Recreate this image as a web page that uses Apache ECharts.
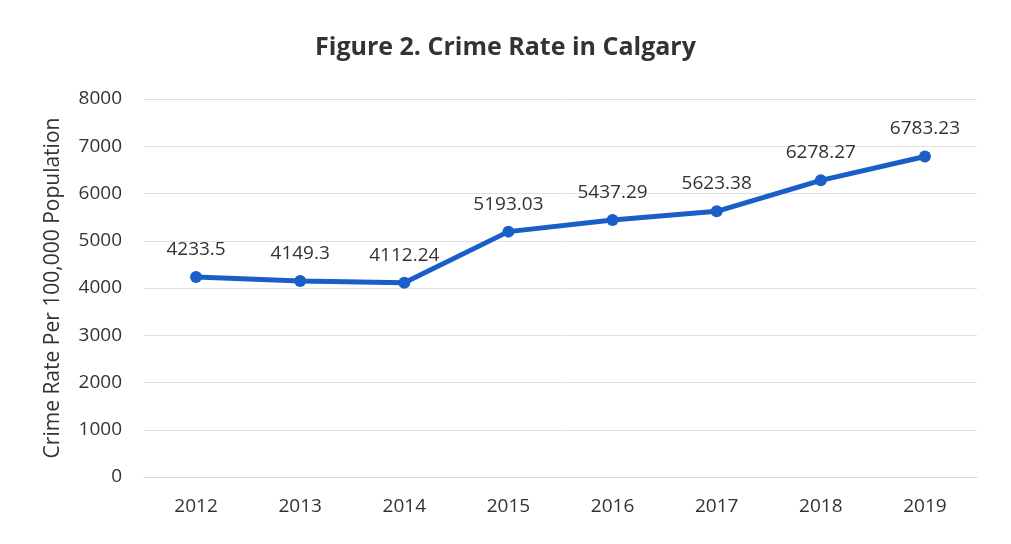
<!DOCTYPE html>
<html>
<head>
<meta charset="utf-8">
<script src="https://cdn.jsdelivr.net/npm/echarts@6/dist/echarts.min.js"></script>
<style>
  html, body { margin: 0; padding: 0; background: #fff; }
  #main { width: 1011px; height: 544px; }
</style>
</head>
<body>
<div id="main"></div>
<script>
// values
var years = ['2012', '2013', '2014', '2015', '2016', '2017', '2018', '2019']
var crimeRate = [4233.5, 4149.3, 4112.24, 5193.03, 5437.29, 5623.38, 6278.27, 6783.23]

var font = 'Open Sans'
var myChart = echarts.init(document.getElementById('main'))
var option = {
  backgroundColor: '#ffffff',
  title: {
    text: 'Figure 2. Crime Rate in Calgary',
    left: 'center',
    top: 30,
    textStyle: { fontFamily: font, fontSize: 25, fontWeight: 'bold', color: '#333' }
  },
  grid: { left: 144, right: 34, top: 99, bottom: 67 },
  xAxis: {
    type: 'category',
    data: years,
    boundaryGap: true,
    axisLine: { lineStyle: { color: '#d9d9d9', width: 1 } },
    axisTick: { show: false },
    axisLabel: { fontFamily: font, fontSize: 19, color: '#333', margin: 20 }
  },
  yAxis: {
    type: 'value',
    min: 0,
    max: 8000,
    interval: 1000,
    name: 'Crime Rate Per 100,000 Population',
    nameLocation: 'middle',
    nameGap: 80,
    nameTextStyle: { fontFamily: font, fontSize: 21, color: '#333' },
    axisLine: { show: false },
    axisTick: { show: false },
    splitLine: { lineStyle: { color: '#e0e0e0', width: 1 } },
    axisLabel: {
      fontFamily: font, fontSize: 19, color: '#333', margin: 22,
      formatter: function (v) { return String(v) }
    }
  },
  series: [
    {
      name: 'Crime Rate',
      type: 'line',
      data: crimeRate,
      symbol: 'circle',
      symbolSize: 12,
      lineStyle: { color: '#1a5fc8', width: 5 },
      itemStyle: { color: '#1a5fc8' },
      label: {
        show: true,
        position: 'top',
        distance: 12,
        fontFamily: font,
        fontSize: 19,
        color: '#333'
      }
    }
  ]
}
myChart.setOption(option)
</script>
</body>
</html>
